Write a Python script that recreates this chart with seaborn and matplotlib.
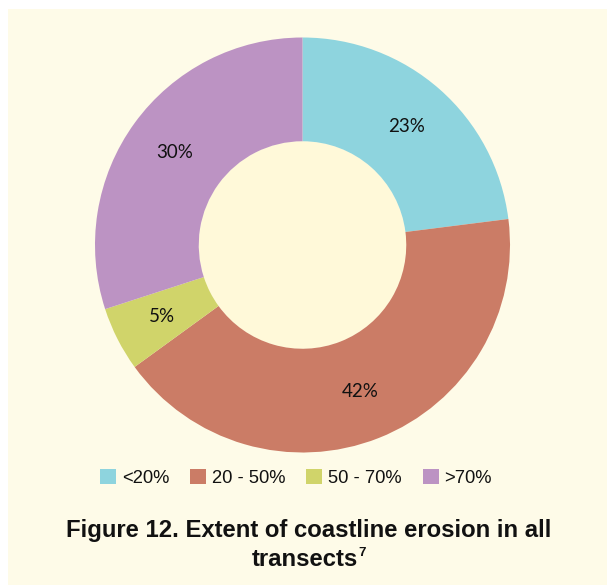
import matplotlib
matplotlib.use("Agg")
import matplotlib.pyplot as plt
import seaborn as sns
from matplotlib.patches import Rectangle, Circle

categories = ["<20%", "20 - 50%", "50 - 70%", ">70%"]
values = [23, 42, 5, 30]
colors = ["#8ED4DE", "#CB7C66", "#D0D46A", "#BC93C3"]

sns.set_theme(style="white")
plt.rcParams['font.family'] = ['Liberation Sans', 'DejaVu Sans']

W, H = 607, 585
fig = plt.figure(figsize=(W / 100, H / 100), dpi=100, facecolor="white")
bg = "#FEFBE8"
fig.patches.append(Rectangle((8 / W, 0), 1, 1 - 9 / H, transform=fig.transFigure,
                             facecolor=bg, edgecolor="none", zorder=-10))

# donut axes
cx, cy, R = 302.5, 245, 207.5
ax = fig.add_axes([(cx - R) / W, 1 - (cy + R) / H, 2 * R / W, 2 * R / H], zorder=5)
ax.set_facecolor("none")
wedges, texts, autotexts = ax.pie(
    values, colors=colors, startangle=90, counterclock=False,
    autopct=lambda p: f"{p:.0f}%", pctdistance=0.76, radius=1,
    wedgeprops=dict(width=0.5, edgecolor="none"),
    textprops=dict(fontsize=13.5, color="#111111", family=["Lato", "DejaVu Sans"]))
ax.add_patch(Circle((0, 0), 0.5, facecolor="#FFF9D9", edgecolor="none", zorder=0))
ax.set_xlim(-1, 1)
ax.set_ylim(-1, 1)
ax.set_aspect("equal")
ax.axis("off")

handles = [Rectangle((0, 0), 1, 1, facecolor=c, edgecolor="none") for c in colors]
fig.legend(handles, categories, loc="center", bbox_to_anchor=(296 / W, 1 - 478 / H),
           ncol=4, frameon=False, fontsize=13.2, handlelength=0.87, handleheight=0.87,
           handletextpad=0.3, columnspacing=1.15, labelcolor="#111111")

fig.text(309 / W, 1 - 530 / H, "Figure 12. Extent of coastline erosion in all",
         ha="center", va="center", fontsize=17.2, fontweight="bold", color="#111111")
fig.text(358 / W, 1 - 559 / H, "transects",
         ha="right", va="center", fontsize=17.2, fontweight="bold", color="#111111")
fig.text(358.5 / W, 1 - 553 / H, "7",
         ha="left", va="center", fontsize=9.5, fontweight="bold", color="#111111")

fig.savefig("out.png", dpi=100, facecolor=fig.get_facecolor())
